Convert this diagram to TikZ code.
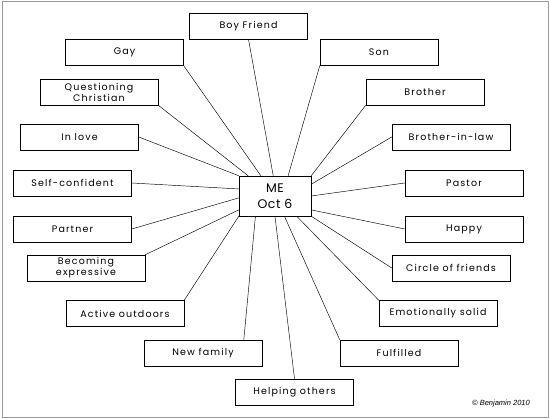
\documentclass[tikz,border=0pt]{standalone}
\usepackage{fontspec}
\setmainfont[LetterSpace=12]{Poppins}
\newfontfamily\mefont[LetterSpace=4]{Poppins}
\newfontfamily\notefont{Liberation Sans}
\begin{document}
\begin{tikzpicture}[x=1pt,y=-1pt,
  trait/.style={draw, line width=0.5pt, minimum width=118pt, minimum height=26pt,
    inner sep=0pt, align=center, font=\fontsize{9.5}{11}\selectfont},
  link/.style={line width=0.45pt}]
\useasboundingbox (0,0) rectangle (550,419);
\draw[gray!80, line width=0.8pt] (2,1) rectangle (548,417);

\node[draw, line width=0.5pt, minimum width=72pt, minimum height=40pt, inner sep=0pt,
  align=center, font=\mefont\fontsize{12.5}{16}\selectfont] (me) at (275,196) {ME\\Oct 6};

% left side
\node[trait] (boyfriend) at (248.5,26) {Boy Friend};
\node[trait] (gay) at (124.5,52.5) {Gay};
\node[trait] (quest) at (99,92) {Questioning\\Christian};
\node[trait] (inlove) at (79.5,137) {In love};
\node[trait] (selfconf) at (72.5,183) {Self-confident};
\node[trait] (partner) at (72.5,229) {Partner};
\node[trait] (becoming) at (86,268) {Becoming\\expressive};
\node[trait] (active) at (125,313.5) {Active outdoors};
\node[trait] (newfam) at (203,353) {New family};
\node[trait] (helping) at (294.5,392) {Helping others};

% right side
\node[trait] (son) at (379,52.5) {Son};
\node[trait] (brother) at (425,92) {Brother};
\node[trait] (inlaw) at (451,137) {Brother-in-law};
\node[trait] (pastor) at (464,183) {Pastor};
\node[trait] (happy) at (464,229) {Happy};
\node[trait] (circle) at (451,268) {Circle of friends};
\node[trait] (emosolid) at (438,313.5) {Emotionally solid};
\node[trait] (fulfilled) at (399,353) {Fulfilled};

\node[font=\notefont\itshape\fontsize{7.5}{8}\selectfont] (note) at (501,404) {\copyright\ Benjamin 2010};

\draw[link] (boyfriend.south) -- (me.95.7);
\draw[link] (gay.south east) -- (me.125);
\draw[link] (quest.south east) -- (me.143.5);
\draw[link] (inlove.east) -- (me.north west);
\draw[link] (selfconf.east) -- (me.169);
\draw[link] (partner.east) -- (me.183.2);
\draw[link] (becoming.north east) -- (me.201.3);
\draw[link] (active.north east) -- (me.south west);
\draw[link] (newfam.18) -- (me.226.5);
\draw[link] (helping.north) -- (me.south);
\draw[link] (son.south west) -- (me.57);
\draw[link] (brother.south west) -- (me.north east);
\draw[link] (inlaw.west) -- (me.18.4);
\draw[link] (pastor.west) -- (me.east);
\draw[link] (happy.west) -- (me.-21.3);
\draw[link] (circle.west) -- (me.south east);
\draw[link] (emosolid.north west) -- (me.-43.6);
\draw[link] (fulfilled.north west) -- (me.-65.8);
\end{tikzpicture}
\end{document}
